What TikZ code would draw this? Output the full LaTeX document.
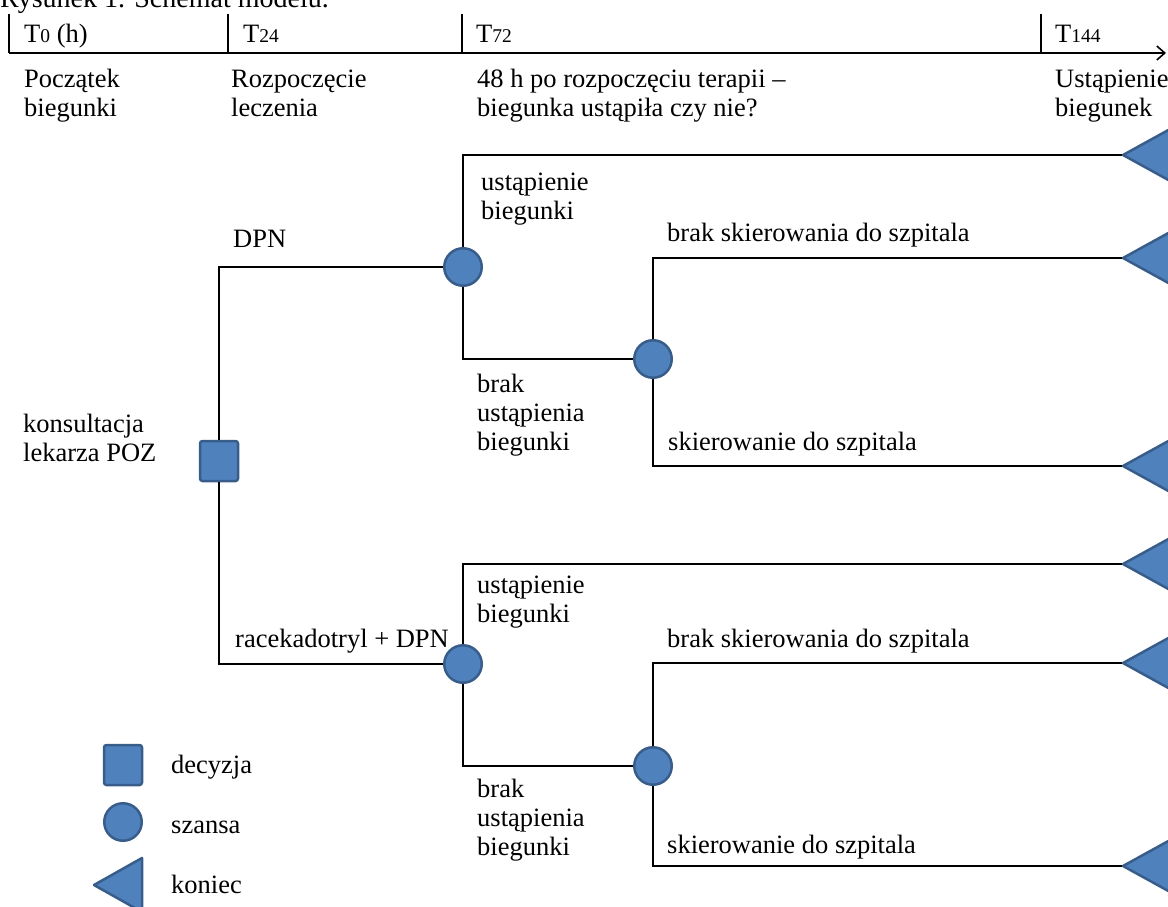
\documentclass[tikz,border=0pt]{standalone}
\usepackage{fontspec}
\setmainfont{Liberation Serif}
\usetikzlibrary{arrows.meta}
\definecolor{nodefill}{HTML}{4F81BD}
\definecolor{nodeedge}{HTML}{385D8A}
\newcommand\mylines[1]{\vtop{\halign{##\hfil\cr#1\crcr}}}
\newcommand\dg[1]{{\fontsize{19.5}{19.5}\selectfont #1}}
\begin{document}
\begin{tikzpicture}[x=1pt,y=-1pt,
  conn/.style={draw=black, line width=2.4pt},
  axis/.style={draw=black, line width=1.8pt},
  lbl/.style={anchor=base west, inner sep=0pt, font=\fontsize{26.5}{29}\selectfont},
  decnode/.style={rectangle, rounded corners=2.5pt, draw=nodeedge, fill=nodefill, line width=2.5pt, minimum width=38pt, minimum height=40pt, inner sep=0pt},
  chnode/.style={circle, draw=nodeedge, fill=nodefill, line width=2.5pt, minimum size=37.5pt, inner sep=0pt},
  endtri/.style={draw=nodeedge, fill=nodefill, line width=2.5pt, line join=round}]
\useasboundingbox (0,0) rectangle (1168,907);

% title (cut off at top)
\node[anchor=base west, inner sep=0pt, font=\fontsize{28}{30}\selectfont] (title) at (0,8) {Rysunek 1. Schemat modelu.};

% timeline
\coordinate (ax0) at (9,53);
\coordinate (axend) at (1166,53);
\draw[axis, -{Straight Barb[length=8pt,width=14pt,line width=1.6pt]}] (ax0) -- (axend);
\foreach \n/\x in {a/9, b/228, c/462, d/1041}{
  \coordinate (tk\n top) at (\x,14);
  \coordinate (tk\n bot) at (\x,53);
  \draw[axis] (tk\n top) -- (tk\n bot);
}
\node[lbl] (lT0) at (24,43) {T\dg{0} (h)};
\node[lbl] (lT24) at (243,43) {T\dg{24}};
\node[lbl] (lT72) at (476,43) {T\dg{72}};
\node[lbl] (lT144) at (1055,43) {T\dg{144}};

\node[lbl] (d0) at (24,88) {\mylines{Początek\cr biegunki}};
\node[lbl] (d24) at (231,88) {\mylines{Rozpoczęcie\cr leczenia}};
\node[lbl] (d72) at (477,88) {\mylines{48 h po rozpoczęciu terapii –\cr biegunka ustąpiła czy nie?}};
\node[lbl] (d144) at (1055,88) {\mylines{Ustąpienie\cr biegunek}};

% tree nodes
\node[decnode] (sq) at (219,461) {};
\node[chnode] (c1) at (463,267) {};
\node[chnode] (c2) at (653,359) {};
\node[chnode] (c3) at (463,664) {};
\node[chnode] (c4) at (653,766) {};

\coordinate (t1) at (1123,155);
\coordinate (t2) at (1123,258);
\coordinate (t3) at (1123,466);
\coordinate (t4) at (1123,564);
\coordinate (t5) at (1123,663);
\coordinate (t6) at (1123,866);

% connectors
\draw[conn] (sq) |- (c1);
\draw[conn] (sq) |- (c3);
\draw[conn] (c1) |- (t1);
\draw[conn] (c1) |- (c2);
\draw[conn] (c2) |- (t2);
\draw[conn] (c2) |- (t3);
\draw[conn] (c3) |- (t4);
\draw[conn] (c3) |- (c4);
\draw[conn] (c4) |- (t5);
\draw[conn] (c4) |- (t6);

% end triangles
\foreach \t in {t1,t2,t3,t4,t5,t6}{
  \filldraw[endtri] (\t) -- ++(49,-27) -- ++(0,54) -- cycle;
}

% labels
\node[lbl] (lk) at (23,432) {\mylines{konsultacja\cr lekarza POZ}};
\node[lbl] (ldpn) at (233,247) {DPN};
\node[lbl] (lrac) at (235,647) {racekadotryl + DPN};
\node[lbl] (lu1) at (481,190) {\mylines{ustąpienie\cr biegunki}};
\node[lbl] (lb1) at (477,392) {\mylines{brak\cr ustąpienia\cr biegunki}};
\node[lbl] (lbs1) at (667,241) {brak skierowania do szpitala};
\node[lbl] (ls1) at (668,450) {skierowanie do szpitala};
\node[lbl] (lu2) at (477,593) {\mylines{ustąpienie\cr biegunki}};
\node[lbl] (lb2) at (477,797) {\mylines{brak\cr ustąpienia\cr biegunki}};
\node[lbl] (lbs2) at (667,647) {brak skierowania do szpitala};
\node[lbl] (ls2) at (667,853) {skierowanie do szpitala};

% legend
\node[decnode] (legsq) at (123,765) {};
\node[chnode] (legc) at (123,822) {};
\coordinate (legt) at (94,885);
\filldraw[endtri] (legt) -- ++(48,-27) -- ++(0,54) -- cycle;
\node[lbl] (legd) at (171,773) {decyzja};
\node[lbl] (legs) at (171,833) {szansa};
\node[lbl] (legk) at (171,893) {koniec};
\end{tikzpicture}
\end{document}
